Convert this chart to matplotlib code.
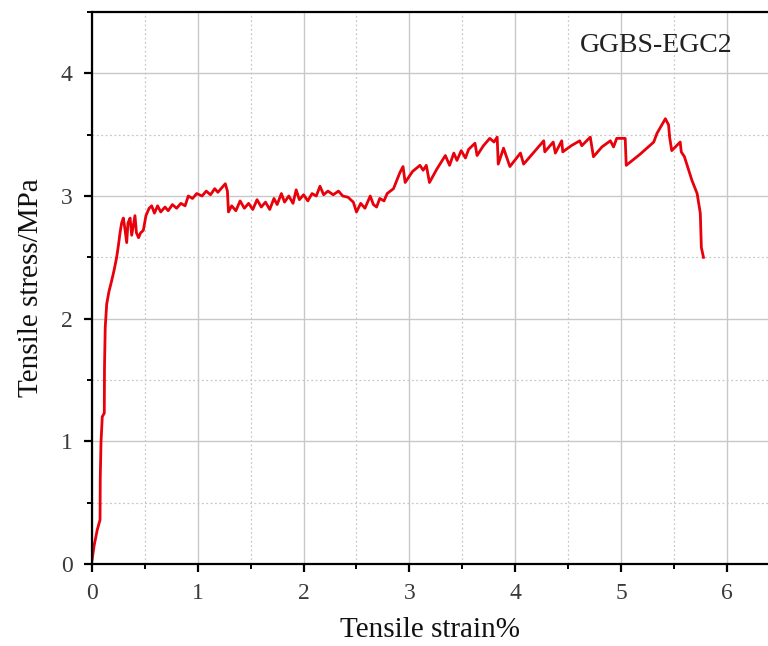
import matplotlib.pyplot as plt
from matplotlib.ticker import MultipleLocator

# --------------------------------
# Data
# --------------------------------

strain = [
    0.00, 0.02, 0.05, 0.076, 0.078, 0.085, 0.097, 0.116, 0.118, 0.125,
    0.139, 0.16, 0.186, 0.21, 0.233, 0.25, 0.265, 0.28, 0.296, 0.31,
    0.328, 0.34, 0.36, 0.375, 0.39, 0.406, 0.42, 0.44, 0.46, 0.485,
    0.51, 0.54, 0.564, 0.59, 0.62, 0.65, 0.69, 0.72, 0.76, 0.80,
    0.84, 0.88, 0.91, 0.95, 0.99, 1.04, 1.08, 1.12, 1.16, 1.19,
    1.23, 1.26, 1.28, 1.29, 1.32, 1.36, 1.40, 1.44, 1.48, 1.52,
    1.56, 1.60, 1.64, 1.68, 1.72, 1.75, 1.79, 1.82, 1.86, 1.90,
    1.93, 1.96, 2.00, 2.04, 2.08, 2.12, 2.155, 2.19, 2.23, 2.28,
    2.33, 2.37, 2.42, 2.47, 2.50, 2.54, 2.58, 2.63, 2.66, 2.69,
    2.72, 2.76, 2.79, 2.85, 2.91, 2.94, 2.96, 3.03, 3.10, 3.13,
    3.16, 3.19, 3.26, 3.34, 3.38, 3.42, 3.45, 3.49, 3.53, 3.56,
    3.62, 3.64, 3.70, 3.76, 3.80, 3.83, 3.84, 3.89, 3.95, 4.05,
    4.08, 4.18, 4.27, 4.28, 4.36, 4.38, 4.44, 4.45, 4.53, 4.61,
    4.63, 4.71, 4.74, 4.82, 4.90, 4.93, 4.96, 5.04, 5.05, 5.18,
    5.31, 5.34, 5.42, 5.45, 5.46, 5.48, 5.56, 5.57, 5.60, 5.64,
    5.67, 5.72, 5.75, 5.76, 5.78,
]

stress = [
    0.03, 0.15, 0.28, 0.36, 0.70, 0.99, 1.20, 1.23, 1.60, 1.93,
    2.12, 2.22, 2.31, 2.40, 2.50, 2.60, 2.70, 2.78, 2.82, 2.74,
    2.62, 2.78, 2.82, 2.68, 2.76, 2.84, 2.70, 2.66, 2.70, 2.72,
    2.84, 2.90, 2.92, 2.86, 2.92, 2.87, 2.91, 2.88, 2.93, 2.90,
    2.94, 2.92, 3.00, 2.98, 3.02, 3.00, 3.04, 3.01, 3.06, 3.03,
    3.07, 3.10, 3.04, 2.87, 2.92, 2.88, 2.96, 2.90, 2.94, 2.89,
    2.97, 2.91, 2.95, 2.89, 2.98, 2.93, 3.02, 2.95, 3.00, 2.94,
    3.05, 2.97, 3.01, 2.96, 3.02, 3.00, 3.08, 3.01, 3.04, 3.01,
    3.04, 3.00, 2.99, 2.95, 2.87, 2.94, 2.90, 3.00, 2.93, 2.91,
    2.98, 2.96, 3.02, 3.06, 3.19, 3.24, 3.11, 3.20, 3.25, 3.21,
    3.25, 3.11, 3.22, 3.33, 3.25, 3.35, 3.29, 3.37, 3.31, 3.38,
    3.43, 3.33, 3.41, 3.47, 3.44, 3.48, 3.26, 3.39, 3.24, 3.35,
    3.26, 3.36, 3.45, 3.36, 3.44, 3.35, 3.45, 3.36, 3.41, 3.45,
    3.41, 3.48, 3.32, 3.40, 3.45, 3.40, 3.47, 3.47, 3.25, 3.34,
    3.44, 3.51, 3.63, 3.58, 3.48, 3.37, 3.44, 3.36, 3.32, 3.21,
    3.13, 3.02, 2.86, 2.58, 2.50,
]

x_ticks = [0, 1, 2, 3, 4, 5, 6]
y_ticks = [0, 1, 2, 3, 4]
sample_label = "GGBS-EGC2"

# --------------------------------
# Plot
# --------------------------------

plt.rcParams["font.family"] = ["Liberation Serif", "DejaVu Serif"]

fig = plt.figure(figsize=(7.68, 6.46), dpi=100)
ax = fig.add_axes([0.1198, 0.127, 0.8802, 0.8544])

ax.plot(strain, stress, color="#e8000b", linewidth=2.0)

ax.set_xlim(0, 6.39)
ax.set_ylim(0, 4.5)
ax.set_xticks(x_ticks)
ax.set_yticks(y_ticks)
ax.xaxis.set_minor_locator(MultipleLocator(0.5))
ax.yaxis.set_minor_locator(MultipleLocator(0.5))

ax.grid(which="major", color="#c8c8c8", linewidth=1.0, linestyle="-")
ax.grid(which="minor", color="#c8c8c8", linewidth=0.9, linestyle=(0, (1.5, 2)))
ax.set_axisbelow(True)

ax.spines["right"].set_visible(False)
for side in ["left", "bottom", "top"]:
    ax.spines[side].set_linewidth(1.6)

ax.tick_params(which="major", direction="out", length=6, width=1.6,
               labelsize=17, labelcolor="#3a3a3a", pad=8)
ax.tick_params(which="minor", direction="out", length=3.5, width=1.4)

ax.set_xlabel("Tensile strain%", fontsize=21, color="#111111", labelpad=9)
ax.set_ylabel("Tensile stress/MPa", fontsize=21, color="#111111", labelpad=12)

ax.text(0.947, 0.94, sample_label, transform=ax.transAxes,
        fontsize=20, color="#222222", ha="right", va="center")

fig.savefig("out.png", dpi=100)
